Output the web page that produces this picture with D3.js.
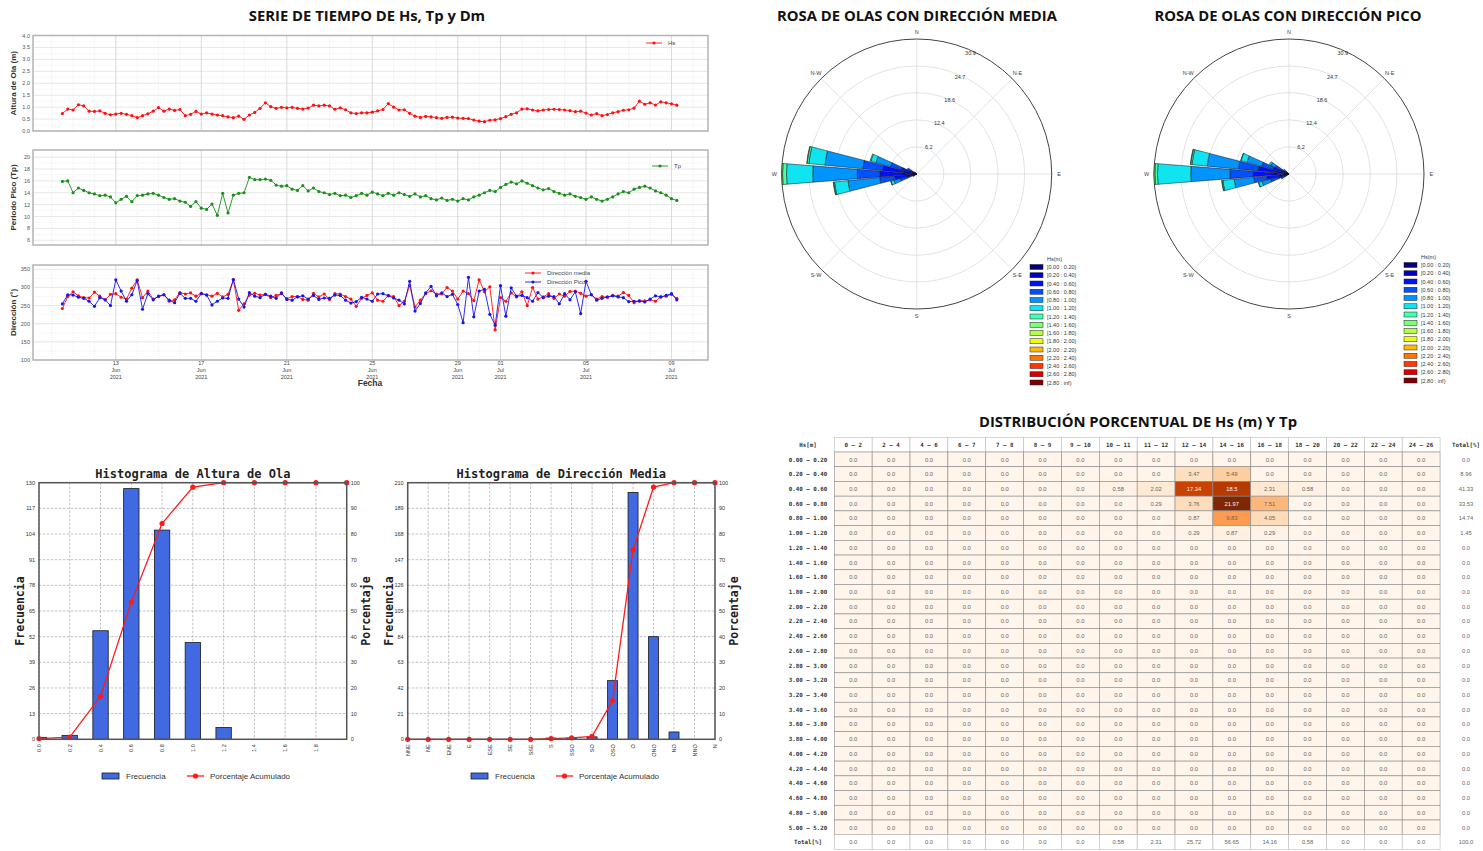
<!DOCTYPE html>
<html>
<head>
<meta charset="utf-8">
<script src="https://cdn.jsdelivr.net/npm/d3@7"></script>
<style>
  body { margin: 0; background: #fff; }
  svg { display: block; font-family: "Liberation Sans", Arial, sans-serif; }
</style>
</head>
<body>
<script>
// ---------- DATA ----------
// time series, one reading every 6 hours from 10 Jun 2021 12:00
const seriesStart = new Date(2021, 5, 10, 12);
const stepHours = 6;
const hsValues = [0.73,0.92,0.88,1.10,1.05,0.83,0.82,0.84,0.74,0.68,0.71,0.74,0.70,0.64,0.56,0.64,0.72,0.83,0.98,0.83,
  0.92,0.86,0.90,0.64,0.70,0.82,0.71,0.76,0.71,0.67,0.64,0.59,0.56,0.62,0.49,0.67,0.78,0.95,1.18,1.02,
  0.95,0.99,0.97,0.99,0.95,0.92,0.96,1.08,1.05,1.08,1.05,0.91,0.97,0.89,0.76,0.73,
  0.76,0.76,0.79,0.84,0.90,1.15,1.00,0.88,0.89,0.74,0.62,0.57,0.61,0.59,0.56,0.53,0.57,0.58,0.54,0.53,
  0.52,0.46,0.41,0.39,0.45,0.47,0.52,0.60,0.70,0.76,0.92,0.93,0.88,0.84,0.88,0.90,0.91,0.90,0.88,0.85,
  0.81,0.83,0.75,0.67,0.73,0.64,0.69,0.76,0.81,0.87,0.89,0.96,1.25,1.12,1.18,1.09,1.22,1.18,1.14,1.08];
const tpValues = [15.9,16.0,14.0,14.8,14.4,14.0,13.8,13.5,13.6,13.3,12.3,12.9,13.4,12.5,13.5,13.6,13.8,13.9,13.6,13.2,
  12.9,13.0,12.6,12.4,11.7,12.5,11.4,11.2,12.1,10.2,13.9,10.6,13.6,13.9,14.0,16.6,16.2,16.2,16.3,16.1,
  15.3,15.1,15.2,14.6,14.4,15.2,14.3,14.8,14.2,14.0,13.7,13.9,13.5,13.6,13.2,13.5,
  13.9,13.6,14.1,13.8,13.5,13.9,13.6,14.0,13.7,13.4,13.8,13.3,13.5,13.0,12.8,13.1,12.7,12.9,12.6,13.0,
  12.8,13.3,13.6,14.0,14.4,14.2,14.9,15.4,15.8,15.5,16.0,15.6,15.2,14.8,14.5,14.7,14.2,13.9,13.6,13.8,
  13.4,13.2,12.9,13.3,12.9,12.6,12.9,13.3,13.8,14.2,14.0,14.6,14.9,15.1,14.8,14.3,14.0,13.6,13.0,12.7];
const dmValues = [242,275,288,277,272,271,287,276,266,281,283,273,268,298,321,272,290,268,275,280,
  262,266,286,282,285,276,284,280,276,284,274,281,321,237,255,279,284,279,281,272,
  278,283,269,275,275,267,265,284,274,282,267,283,282,275,268,248,
  270,278,285,265,262,278,275,250,262,305,246,265,283,291,282,282,300,290,268,290,
  283,264,321,288,302,183,272,262,285,274,288,250,300,268,274,283,270,282,276,289,
  290,284,276,280,268,275,273,278,276,286,278,258,264,263,266,262,274,276,281,270];
const dpValues = [255,280,279,273,270,262,248,272,266,250,321,290,262,280,319,240,283,266,276,280,
  265,258,284,270,270,262,283,279,252,262,271,270,322,268,246,286,276,272,281,276,
  270,285,267,265,274,277,268,278,267,271,270,279,278,265,257,261,
  273,268,262,282,283,277,271,265,255,317,235,256,285,303,277,285,275,281,253,203,
  328,219,290,295,226,196,305,221,299,276,278,272,262,286,272,276,275,255,283,266,
  288,228,317,280,265,270,274,277,274,272,261,262,262,260,268,277,274,278,283,266];
const dateTicks = [new Date(2021,5,13), new Date(2021,5,17), new Date(2021,5,21), new Date(2021,5,25),
  new Date(2021,5,29), new Date(2021,6,1), new Date(2021,6,5), new Date(2021,6,9)];

// wave roses: percentage per Hs class for each 10-degree sector
const hsClasses = ["[0.00 : 0.20)","[0.20 : 0.40)","[0.40 : 0.60)","[0.60 : 0.80)","[0.80 : 1.00)",
  "[1.00 : 1.20)","[1.20 : 1.40)","[1.40 : 1.60)","[1.60 : 1.80)","[1.80 : 2.00)",
  "[2.00 : 2.20)","[2.20 : 2.40)","[2.40 : 2.60)","[2.60 : 2.80)","[2.80 : inf)"];
const hsClassColors = ["#00007f","#0000c4","#0010ff","#0050ff","#0094ff","#10e4f0","#46ffb0","#7cff7a",
  "#b2ff44","#eaff0c","#ffb900","#ff7700","#ff3800","#d80000","#7f0000"];
const roseSectors = [240, 250, 260, 270, 280, 290, 300, 310];
const roseMedia = [
  [0.1,0.3,0.3,0.2,0.1,0,0,0],
  [0.3,0.7,1.4,1.5,1.5,0.7,0.1,0],
  [0.5,1.5,3.0,3.5,7.3,3.1,0.2,0.1],
  [1.1,2.0,5.3,5.2,10.2,6.0,0.9,0.2],
  [0.8,2.2,4.8,4.6,8.7,3.7,0.4,0.1],
  [0.4,1.2,2.0,2.6,3.5,1.2,0.2,0],
  [0.2,0.5,0.8,0.6,0.3,0,0,0],
  [0.1,0.2,0.3,0.1,0,0,0,0]
];
const rosePico = [
  [0.1,0.3,0.6,0.5,0.4,0.1,0,0],
  [0.3,0.8,1.5,1.8,2.0,0.8,0.1,0],
  [0.6,1.5,3.0,3.0,4.5,2.6,0.2,0.1],
  [1.0,2.2,5.0,5.3,9.0,7.6,0.6,0.2],
  [0.8,2.0,4.3,4.5,7.2,3.5,0.3,0.1],
  [0.4,1.2,2.2,2.7,3.5,1.4,0.1,0],
  [0.2,0.6,1.2,1.4,1.2,0.4,0,0],
  [0.1,0.2,0.4,0.4,0.3,0.1,0,0]
];
const roseRings = [6.2, 12.4, 18.6, 24.7, 30.9];
const compassLabels = ["N","N-E","E","S-E","S","S-W","W","N-W"];

// histograms
const hsHistX = [0.0,0.2,0.4,0.6,0.8,1.0,1.2,1.4,1.6,1.8,2.0];
const hsHistFreq = [1,2,55,127,106,49,6,0,0,0,0];
const hsFreqTicks = [0,13,26,39,52,65,78,91,104,117,130];
const dirCats = ["NNE","NE","ENE","E","ESE","SE","SSE","S","SSO","SO","OSO","O","ONO","NO","NNO","N"];
const dirFreq = [0,0,0,0,0,0,0,1,1,2,48,202,84,6,0,0];
const dirFreqTicks = [0,21,42,63,84,105,126,147,168,189,210];
const pctTicks = [0,10,20,30,40,50,60,70,80,90,100];

// table Hs x Tp (%)
const tableHsLabels = ["0.00 – 0.20","0.20 – 0.40","0.40 – 0.60","0.60 – 0.80","0.80 – 1.00","1.00 – 1.20",
  "1.20 – 1.40","1.40 – 1.60","1.60 – 1.80","1.80 – 2.00","2.00 – 2.20","2.20 – 2.40","2.40 – 2.60",
  "2.60 – 2.80","2.80 – 3.00","3.00 – 3.20","3.20 – 3.40","3.40 – 3.60","3.60 – 3.80","3.80 – 4.00",
  "4.00 – 4.20","4.20 – 4.40","4.40 – 4.60","4.60 – 4.80","4.80 – 5.00","5.00 – 5.20"];
const tableTpLabels = ["0 – 2","2 – 4","4 – 6","6 – 7","7 – 8","8 – 9","9 – 10","10 – 11","11 – 12",
  "12 – 14","14 – 16","16 – 18","18 – 20","20 – 22","22 – 24","24 – 26"];
const tableValues = [
  [0,0,0,0,0,0,0,0,0,0,0,0,0,0,0,0],
  [0,0,0,0,0,0,0,0,0,3.47,5.49,0,0,0,0,0],
  [0,0,0,0,0,0,0,0.58,2.02,17.34,18.5,2.31,0.58,0,0,0],
  [0,0,0,0,0,0,0,0,0.29,3.76,21.97,7.51,0,0,0,0],
  [0,0,0,0,0,0,0,0,0,0.87,9.83,4.05,0,0,0,0],
  [0,0,0,0,0,0,0,0,0,0.29,0.87,0.29,0,0,0,0]
];
const tableRowTotals = [0, 8.96, 41.33, 33.53, 14.74, 1.45];
const tableColTotals = [0,0,0,0,0,0,0,0.58,2.31,25.72,56.65,14.16,0.58,0,0,0];
const tableGrandTotal = 100;

// ---------- DRAWING ----------
const svg = d3.select("body").append("svg").attr("width", 1483).attr("height", 851);

const titles = [
  ["SERIE DE TIEMPO DE Hs, Tp y Dm", 367, 21],
  ["ROSA DE OLAS CON DIRECCIÓN MEDIA", 917, 21],
  ["ROSA DE OLAS CON DIRECCIÓN PICO", 1288, 21],
  ["DISTRIBUCIÓN PORCENTUAL DE Hs (m) Y Tp", 1138, 427]
];
svg.selectAll("text.title").data(titles).join("text")
  .attr("class", "title")
  .attr("x", d => d[1]).attr("y", d => d[2])
  .attr("text-anchor", "middle")
  .style("font-family", "'Open Sans', sans-serif")
  .style("font-weight", "bold").style("font-size", "14.8px").attr("fill", "#111")
  .text(d => d[0]);

// ---- time series ----
const tsX = d3.scaleTime()
  .domain([new Date(2021, 5, 9, 3), new Date(2021, 6, 10, 17)])
  .range([33, 708]);
const tsTimes = d3.range(hsValues.length).map(i => d3.timeHour.offset(seriesStart, i * stepHours));

function drawPanel(cfg) {
  const y = d3.scaleLinear().domain(cfg.domain).range([cfg.bottom, cfg.top]);
  const g = svg.append("g");
  const days = d3.timeDay.range(tsX.domain()[0], tsX.domain()[1]);
  g.selectAll("line.vmin").data(days).join("line")
    .attr("x1", d => tsX(d)).attr("x2", d => tsX(d))
    .attr("y1", cfg.top).attr("y2", cfg.bottom)
    .attr("stroke", "#e4e4e4").attr("stroke-width", 0.6).attr("stroke-dasharray", "1,1");
  const minorY = cfg.ticks.slice(0, -1).map((t, i) => (t + cfg.ticks[i + 1]) / 2);
  g.selectAll("line.hmin").data(minorY).join("line")
    .attr("x1", 33).attr("x2", 708)
    .attr("y1", d => y(d)).attr("y2", d => y(d))
    .attr("stroke", "#e8e8e8").attr("stroke-width", 0.6).attr("stroke-dasharray", "1,1");
  g.selectAll("line.hmaj").data(cfg.ticks).join("line")
    .attr("x1", 33).attr("x2", 708)
    .attr("y1", d => y(d)).attr("y2", d => y(d))
    .attr("stroke", "#dcdcdc").attr("stroke-width", 0.7);
  g.selectAll("line.vmaj").data(dateTicks).join("line")
    .attr("x1", d => tsX(d)).attr("x2", d => tsX(d))
    .attr("y1", cfg.top).attr("y2", cfg.bottom)
    .attr("stroke", "#d4d4d4").attr("stroke-width", 0.8);
  g.append("rect")
    .attr("x", 33).attr("y", cfg.top).attr("width", 675).attr("height", cfg.bottom - cfg.top)
    .attr("fill", "none").attr("stroke", "#b4b4b4").attr("stroke-width", 1.5);
  g.selectAll("text.yt").data(cfg.ticks).join("text")
    .attr("x", 30).attr("y", d => y(d) + 2)
    .attr("text-anchor", "end").style("font-size", "5.5px").attr("fill", "#555")
    .text(cfg.fmt);
  g.append("text")
    .attr("transform", `translate(16,${(cfg.top + cfg.bottom) / 2}) rotate(-90)`)
    .attr("text-anchor", "middle").style("font-size", "8px").style("font-weight", "bold")
    .attr("fill", "#333").text(cfg.label);

  const line = d3.line().x((d, i) => tsX(tsTimes[i])).y(d => y(d));
  cfg.series.forEach(s => {
    g.append("path").datum(s.values)
      .attr("d", line).attr("fill", "none")
      .attr("stroke", s.color).attr("stroke-width", 0.9);
    g.selectAll(null).data(s.values).join("circle")
      .attr("cx", (d, i) => tsX(tsTimes[i])).attr("cy", d => y(d))
      .attr("r", 1.6).attr("fill", s.color);
  });
  cfg.series.forEach(s => {
    const ly = s.legendY;
    g.append("line").attr("x1", s.legendX).attr("x2", s.legendX + 16)
      .attr("y1", ly).attr("y2", ly).attr("stroke", s.color).attr("stroke-width", 0.9);
    g.append("circle").attr("cx", s.legendX + 8).attr("cy", ly).attr("r", 1.6).attr("fill", s.color);
    g.append("text").attr("x", s.legendX + 22).attr("y", ly + 2)
      .style("font-size", "6px").attr("fill", "#444").text(s.name);
  });
  return g;
}

drawPanel({
  top: 35.5, bottom: 131, domain: [0, 4],
  ticks: d3.range(0, 4.01, 0.5), fmt: d3.format(".1f"), label: "Altura de Ola (m)",
  series: [{ name: "Hs", values: hsValues, color: "#ff1010", legendX: 646, legendY: 43 }]
});
drawPanel({
  top: 150, bottom: 245, domain: [5.2, 21.2],
  ticks: d3.range(6, 20.1, 2), fmt: d3.format("d"), label: "Periodo Pico (Tp)",
  series: [{ name: "Tp", values: tpValues, color: "#1a8f1a", legendX: 652, legendY: 166 }]
});
const dirPanel = drawPanel({
  top: 265, bottom: 360, domain: [100, 362],
  ticks: d3.range(100, 351, 50), fmt: d3.format("d"), label: "Dirección (°)",
  series: [
    { name: "Dirección media", values: dmValues, color: "#ff1010", legendX: 525, legendY: 273 },
    { name: "Dirección Pico", values: dpValues, color: "#1515f0", legendX: 525, legendY: 282 }
  ]
});
const dateLines = [d3.timeFormat("%d"), d3.timeFormat("%b"), d3.timeFormat("%Y")];
dateTicks.forEach(t => {
  dateLines.forEach((f, k) => {
    dirPanel.append("text").attr("x", tsX(t)).attr("y", 365 + k * 7)
      .attr("text-anchor", "middle").style("font-size", "5.5px").attr("fill", "#444").text(f(t));
  });
});
dirPanel.append("text").attr("x", 370).attr("y", 386).attr("text-anchor", "middle")
  .style("font-size", "8.5px").style("font-weight", "bold").attr("fill", "#333").text("Fecha");

// ---- wave roses ----
function drawRose(cx, cy, data, legendX, legendY) {
  const r = d3.scaleLinear().domain([0, 30.9]).range([0, 135]);
  const g = svg.append("g").attr("transform", `translate(${cx},${cy})`);
  d3.range(8).forEach(k => {
    const a = k * Math.PI / 4;
    g.append("line").attr("x1", 0).attr("y1", 0)
      .attr("x2", r(30.9) * Math.sin(a)).attr("y2", -r(30.9) * Math.cos(a))
      .attr("stroke", "#dcdcdc").attr("stroke-width", 0.8);
    g.append("text").attr("x", r(30.9 * 1.055) * Math.sin(a)).attr("y", -r(30.9 * 1.055) * Math.cos(a) + 2)
      .attr("text-anchor", "middle").style("font-size", "5.5px").attr("fill", "#444")
      .text(compassLabels[k]);
  });
  g.selectAll("circle.ring").data(roseRings.slice(0, -1)).join("circle")
    .attr("r", d => r(d)).attr("fill", "none").attr("stroke", "#dcdcdc").attr("stroke-width", 0.8);
  g.append("circle").attr("r", r(30.9)).attr("fill", "none").attr("stroke", "#444").attr("stroke-width", 1);

  const arc = d3.arc();
  data.forEach((segs, j) => {
    const dir = roseSectors[j] * Math.PI / 180;
    const half = 4.5 * Math.PI / 180;
    let cum = 0;
    segs.forEach((v, k) => {
      if (v > 0) {
        g.append("path")
          .attr("d", arc({ innerRadius: r(cum), outerRadius: r(cum + v), startAngle: dir - half, endAngle: dir + half }))
          .attr("fill", hsClassColors[k]).attr("stroke", "#111").attr("stroke-width", 0.5);
      }
      cum += v;
    });
  });
  const a = 24 * Math.PI / 180;
  g.selectAll("text.ringlbl").data(roseRings).join("text")
    .attr("x", d => (r(d) * 0.95 + 4) * Math.sin(a))
    .attr("y", d => -(r(d) * 0.95 + 4) * Math.cos(a) + 2)
    .attr("text-anchor", "middle").style("font-size", "5.5px").attr("fill", "#333")
    .text(d => d);

  const lg = svg.append("g");
  lg.append("text").attr("x", legendX + 17).attr("y", legendY - 6)
    .style("font-size", "5.5px").attr("fill", "#333").text("Hs(m)");
  hsClasses.forEach((c, k) => {
    lg.append("rect").attr("x", legendX).attr("y", legendY + k * 8.25 - 2.5)
      .attr("width", 13).attr("height", 5)
      .attr("fill", hsClassColors[k]).attr("stroke", "#222").attr("stroke-width", 0.5);
    lg.append("text").attr("x", legendX + 17).attr("y", legendY + k * 8.25 + 2)
      .style("font-size", "5.5px").attr("fill", "#333").text(c);
  });
}
drawRose(916.7, 174, roseMedia, 1030, 267);
drawRose(1289, 174, rosePico, 1404, 265);

// ---- histograms ----
function drawHist(cfg) {
  const top = 482.7, bottom = 739.3;
  const g = svg.append("g");
  const y = d3.scaleLinear().domain([0, d3.max(cfg.freqTicks)]).range([bottom, top]);
  const yp = d3.scaleLinear().domain([0, 100]).range([bottom, top]);
  const total = d3.sum(cfg.freq);
  const cum = d3.cumsum(cfg.freq).map(v => v / total * 100);
  const clipId = "clip" + cfg.id;
  g.append("clipPath").attr("id", clipId).append("rect")
    .attr("x", cfg.left).attr("y", top).attr("width", cfg.right - cfg.left).attr("height", bottom - top);

  g.selectAll("line.gy").data(cfg.freqTicks).join("line")
    .attr("x1", cfg.left).attr("x2", cfg.right).attr("y1", d => y(d)).attr("y2", d => y(d))
    .attr("stroke", "#999").attr("stroke-width", 0.6).attr("stroke-dasharray", "2.5,1.5");
  g.selectAll("line.gx").data(cfg.cats).join("line")
    .attr("x1", d => cfg.x(d)).attr("x2", d => cfg.x(d)).attr("y1", top).attr("y2", bottom)
    .attr("stroke", "#999").attr("stroke-width", 0.6).attr("stroke-dasharray", "2.5,1.5");

  g.append("g").attr("clip-path", `url(#${clipId})`)
    .selectAll("rect").data(cfg.freq).join("rect")
    .attr("x", (d, i) => cfg.x(cfg.cats[i]) - cfg.barW / 2)
    .attr("y", d => y(d)).attr("width", cfg.barW).attr("height", d => bottom - y(d))
    .attr("fill", "#4169e1").attr("stroke", "#1a1a1a").attr("stroke-width", 0.8)
    .attr("display", d => d > 0 ? null : "none");

  g.append("path").datum(cum)
    .attr("d", d3.line().x((d, i) => cfg.x(cfg.cats[i])).y(d => yp(d)))
    .attr("fill", "none").attr("stroke", "#ff1a1a").attr("stroke-width", 1.3);
  g.selectAll("circle").data(cum).join("circle")
    .attr("cx", (d, i) => cfg.x(cfg.cats[i])).attr("cy", d => yp(d)).attr("r", 2.6).attr("fill", "#ff1a1a");

  g.append("rect").attr("x", cfg.left).attr("y", top)
    .attr("width", cfg.right - cfg.left).attr("height", bottom - top)
    .attr("fill", "none").attr("stroke", "#555").attr("stroke-width", 1.5);

  g.selectAll("text.yl").data(cfg.freqTicks).join("text")
    .attr("x", cfg.left - 4).attr("y", d => y(d) + 2).attr("text-anchor", "end")
    .style("font-size", "5.5px").attr("fill", "#333").text(d => d);
  g.selectAll("text.yr").data(pctTicks).join("text")
    .attr("x", cfg.right + 4).attr("y", d => yp(d) + 2)
    .style("font-size", "5.5px").attr("fill", "#333").text(d => d);
  g.selectAll("text.xl").data(cfg.labels).join("text")
    .attr("transform", (d, i) => `translate(${cfg.x(cfg.cats[i]) + 2},${bottom + 5}) rotate(-90)`)
    .attr("text-anchor", "end").style("font-size", "5.5px").attr("fill", "#333").text(d => d);

  const mono = "'DejaVu Sans Mono', monospace";
  g.append("text").attr("x", (cfg.left + cfg.right) / 2).attr("y", 478).attr("text-anchor", "middle")
    .style("font-family", mono).style("font-weight", "bold").style("font-size", "12px")
    .attr("fill", "#222").text(cfg.title);
  g.append("text").attr("transform", `translate(${cfg.left - 15},${(top + bottom) / 2}) rotate(-90)`)
    .attr("text-anchor", "middle").style("font-family", mono).style("font-weight", "bold")
    .style("font-size", "11.5px").attr("fill", "#222").text("Frecuencia");
  g.append("text").attr("transform", `translate(${cfg.right + 23},${(top + bottom) / 2}) rotate(-90)`)
    .attr("text-anchor", "middle").style("font-family", mono).style("font-weight", "bold")
    .style("font-size", "11.5px").attr("fill", "#222").text("Porcentaje");

  const lx = cfg.legendX, ly = 776;
  g.append("rect").attr("x", lx).attr("y", ly - 3).attr("width", 17).attr("height", 6)
    .attr("fill", "#4169e1").attr("stroke", "#1a1a1a").attr("stroke-width", 0.8);
  g.append("text").attr("x", lx + 24).attr("y", ly + 3).style("font-size", "8px").attr("fill", "#333").text("Frecuencia");
  g.append("line").attr("x1", lx + 85).attr("x2", lx + 102).attr("y1", ly).attr("y2", ly)
    .attr("stroke", "#ff1a1a").attr("stroke-width", 1.3);
  g.append("circle").attr("cx", lx + 93.5).attr("cy", ly).attr("r", 2.6).attr("fill", "#ff1a1a");
  g.append("text").attr("x", lx + 108).attr("y", ly + 3).style("font-size", "8px").attr("fill", "#333").text("Porcentaje Acumulado");
}

const hsXScale = d3.scaleLinear().domain([0, 2.0]).range([39, 346.7]);
drawHist({
  id: "hs", left: 39, right: 346.7, x: hsXScale, cats: hsHistX,
  labels: hsHistX.slice(0, -1).map(d3.format(".1f")),
  freq: hsHistFreq, freqTicks: hsFreqTicks, barW: hsXScale(0.1) - hsXScale(0),
  title: "Histograma de Altura de Ola", legendX: 102
});
const dirXScale = d3.scalePoint().domain(dirCats).range([407.7, 715]);
drawHist({
  id: "dir", left: 407.7, right: 715, x: dirXScale, cats: dirCats, labels: dirCats,
  freq: dirFreq, freqTicks: dirFreqTicks, barW: 10,
  title: "Histograma de Dirección Media", legendX: 471
});

// ---- table ----
const tb = { x0: 834.3, colW: 37.86, headTop: 437.5, rowTop: 452, rowH: 14.72, labelX: 808, totalX: 1466 };
const fmtCell = v => v === 0 ? "0.0" : (Number.isInteger(v) ? v.toFixed(1) : String(+v.toFixed(2)));
const vmax = d3.max(tableValues.flat());
const cellColor = d3.scaleSequential(d3.interpolateOranges).domain([0, vmax]);
const tg = svg.append("g").style("font-size", "5.8px");

tableTpLabels.forEach((lbl, j) => {
  const x = tb.x0 + j * tb.colW;
  tg.append("rect").attr("x", x).attr("y", tb.headTop).attr("width", tb.colW).attr("height", tb.rowTop - tb.headTop)
    .attr("fill", "#fff").attr("stroke", "#bbb").attr("stroke-width", 0.6);
  tg.append("text").attr("x", x + tb.colW / 2).attr("y", tb.headTop + 9.5).attr("text-anchor", "middle")
    .style("font-family", "'DejaVu Sans Mono', monospace").style("font-weight", "bold").attr("fill", "#333").text(lbl);
});
tg.append("text").attr("x", tb.labelX).attr("y", tb.headTop + 9.5).attr("text-anchor", "middle")
  .style("font-family", "'DejaVu Sans Mono', monospace").style("font-weight", "bold").attr("fill", "#333").text("Hs[m]");
tg.append("text").attr("x", tb.totalX).attr("y", tb.headTop + 9.5).attr("text-anchor", "middle")
  .style("font-family", "'DejaVu Sans Mono', monospace").style("font-weight", "bold").attr("fill", "#333").text("Total[%]");

tableHsLabels.forEach((lbl, i) => {
  const y = tb.rowTop + i * tb.rowH;
  const row = tableValues[i] || tableTpLabels.map(() => 0);
  tg.append("text").attr("x", tb.labelX).attr("y", y + 9.5).attr("text-anchor", "middle")
    .style("font-family", "'DejaVu Sans Mono', monospace").style("font-weight", "bold").attr("fill", "#333").text(lbl);
  row.forEach((v, j) => {
    const x = tb.x0 + j * tb.colW;
    tg.append("rect").attr("x", x).attr("y", y).attr("width", tb.colW).attr("height", tb.rowH)
      .attr("fill", cellColor(v)).attr("stroke", "#8a8a8a").attr("stroke-width", 0.6);
    tg.append("text").attr("x", x + tb.colW / 2).attr("y", y + 9.5).attr("text-anchor", "middle")
      .attr("fill", v / vmax > 0.6 ? "#f2f2f2" : "#666").text(fmtCell(v));
  });
  tg.append("text").attr("x", tb.totalX).attr("y", y + 9.5).attr("text-anchor", "middle")
    .attr("fill", "#666").text(fmtCell(tableRowTotals[i] || 0));
});
const totY = tb.rowTop + tableHsLabels.length * tb.rowH;
tg.append("text").attr("x", tb.labelX).attr("y", totY + 9.5).attr("text-anchor", "middle")
  .style("font-family", "'DejaVu Sans Mono', monospace").style("font-weight", "bold").attr("fill", "#333").text("Total[%]");
tableColTotals.forEach((v, j) => {
  const x = tb.x0 + j * tb.colW;
  tg.append("rect").attr("x", x).attr("y", totY).attr("width", tb.colW).attr("height", tb.rowH)
    .attr("fill", "#fff").attr("stroke", "#bbb").attr("stroke-width", 0.6);
  tg.append("text").attr("x", x + tb.colW / 2).attr("y", totY + 9.5).attr("text-anchor", "middle")
    .attr("fill", "#666").text(fmtCell(v));
});
tg.append("text").attr("x", tb.totalX).attr("y", totY + 9.5).attr("text-anchor", "middle")
  .attr("fill", "#666").text(fmtCell(tableGrandTotal));
</script>
</body>
</html>
